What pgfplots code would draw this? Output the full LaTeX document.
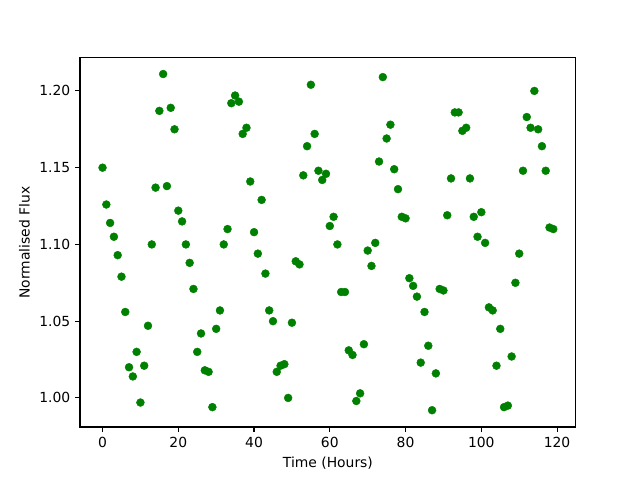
\documentclass[border=0pt]{standalone}
\usepackage{fontspec}
\setmainfont{DejaVu Sans}
\usepackage{pgfplots}
\pgfplotsset{compat=1.18}
\definecolor{mplgreen}{HTML}{008000}
\begin{document}
\begin{tikzpicture}
\begin{axis}[
  name=ax,
  scale only axis,
  width=357pt, height=265.7pt,
  xmin=-5.95, xmax=124.95,
  ymin=0.9811, ymax=1.2215,
  xtick={0,20,40,60,80,100,120},
  ytick={1.00,1.05,1.10,1.15,1.20},
  yticklabel style={/pgf/number format/.cd,fixed,fixed zerofill,precision=2},
  /pgf/number format/assume math mode=true,
  tick align=outside,
  major tick length=3.5pt,
  tick style={black, line width=0.8pt},
  axis line style={line width=0.8pt},
  xtick pos=bottom, ytick pos=left,
  xlabel={Time (Hours)},
  ylabel={Normalised Flux},
  ticklabel style={font=\fontsize{10}{12}\selectfont},
  label style={font=\fontsize{10}{12}\selectfont},
]
\addplot[only marks, mark=*, mark size=2.85pt, mark options={fill=mplgreen, draw=mplgreen, line width=0.3pt, solid}, color=mplgreen] table {
x y
0 1.150
1 1.126
2 1.114
3 1.105
4 1.093
5 1.079
6 1.056
7 1.020
8 1.014
9 1.030
10 0.997
11 1.021
12 1.047
13 1.100
14 1.137
15 1.187
16 1.211
17 1.138
18 1.189
19 1.175
20 1.122
21 1.115
22 1.100
23 1.088
24 1.071
25 1.030
26 1.042
27 1.018
28 1.017
29 0.994
30 1.045
31 1.057
32 1.100
33 1.110
34 1.192
35 1.197
36 1.193
37 1.172
38 1.176
39 1.141
40 1.108
41 1.094
42 1.129
43 1.081
44 1.057
45 1.050
46 1.017
47 1.021
48 1.022
49 1.000
50 1.049
51 1.089
52 1.087
53 1.145
54 1.164
55 1.204
56 1.172
57 1.148
58 1.142
59 1.146
60 1.112
61 1.118
62 1.100
63 1.069
64 1.069
65 1.031
66 1.028
67 0.998
68 1.003
69 1.035
70 1.096
71 1.086
72 1.101
73 1.154
74 1.209
75 1.169
76 1.178
77 1.149
78 1.136
79 1.118
80 1.117
81 1.078
82 1.073
83 1.066
84 1.023
85 1.056
86 1.034
87 0.992
88 1.016
89 1.071
90 1.070
91 1.119
92 1.143
93 1.186
94 1.186
95 1.174
96 1.176
97 1.143
98 1.118
99 1.105
100 1.121
101 1.101
102 1.059
103 1.057
104 1.021
105 1.045
106 0.994
107 0.995
108 1.027
109 1.075
110 1.094
111 1.148
112 1.183
113 1.176
114 1.200
115 1.175
116 1.164
117 1.148
118 1.111
119 1.110
};
\end{axis}
\path (ax.south west) ++(-57.6pt,-38.2pt) rectangle ++(460.8pt,345.6pt);
\end{tikzpicture}
\end{document}
